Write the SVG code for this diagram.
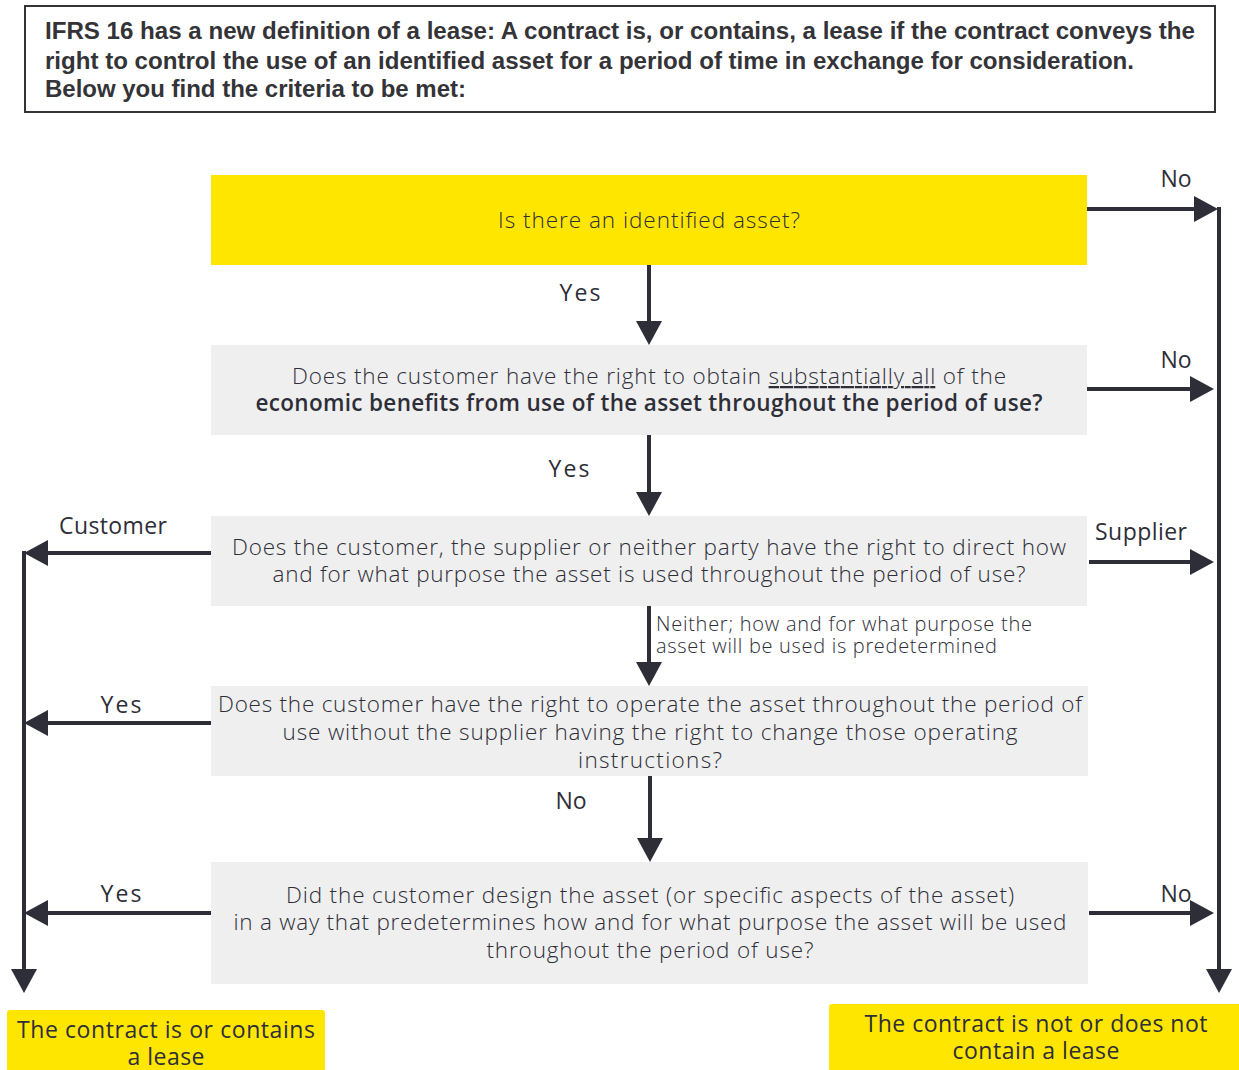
<svg xmlns="http://www.w3.org/2000/svg" width="1239" height="1070" viewBox="0 0 1239 1070">
<style>
.hdr{font-family:"Liberation Sans",Arial,sans-serif;font-weight:bold;font-size:23px;fill:#333338}
.q{font-family:"Open Sans","Noto Sans",sans-serif;font-weight:300;font-size:22.5px;fill:#2e2e38;text-anchor:middle}
.qb{font-weight:600}
.lbl{font-family:"Open Sans","Noto Sans",sans-serif;font-weight:500;font-size:23px;fill:#2e2e38;text-anchor:middle}
.note{font-family:"Open Sans","Noto Sans",sans-serif;font-weight:300;font-size:20px;fill:#2e2e38}
.res{font-family:"Open Sans","Noto Sans",sans-serif;font-weight:500;font-size:23px;fill:#2e2e38;text-anchor:middle}
.yel{fill:#FFE600}
.gry{fill:#EFEFEF}
.ar{stroke:#2e2e38;stroke-width:4;fill:none;marker-end:url(#ah)}
</style>
<defs>
<marker id="ah" viewBox="0 0 24 26" refX="14" refY="13" markerWidth="24" markerHeight="26" markerUnits="userSpaceOnUse" orient="auto">
<path d="M0,0 L24,13 L0,26 Z" fill="#2e2e38"/>
</marker>
</defs>
<rect width="1239" height="1070" fill="#ffffff"/>
<g id="header">
<rect x="25" y="6" width="1190" height="106" fill="#fff" stroke="#333338" stroke-width="2"/>
<text class="hdr" x="45" y="39" textLength="1150" lengthAdjust="spacingAndGlyphs">IFRS 16 has a new definition of a lease: A contract is, or contains, a lease if the contract conveys the</text>
<text class="hdr" x="45" y="69" textLength="1089" lengthAdjust="spacingAndGlyphs">right to control the use of an identified asset for a period of time in exchange for consideration.</text>
<text class="hdr" x="45" y="97" textLength="421" lengthAdjust="spacingAndGlyphs">Below you find the criteria to be met:</text>
</g>
<g id="q1">
<rect class="yel" x="211" y="175" width="876" height="90"/>
<text class="q" x="649" y="228" textLength="302">Is there an identified asset?</text>
</g>
<g id="q2">
<rect class="gry" x="211" y="345" width="876" height="90"/>
<text class="q" x="649" y="384" textLength="714">Does the customer have the right to obtain <tspan text-decoration="underline">substantially all</tspan> of the</text>
<text class="q qb" x="649" y="411" textLength="787">economic benefits from use of the asset throughout the period of use?</text>
</g>
<g id="q3">
<rect class="gry" x="211" y="516" width="876" height="90"/>
<text class="q" x="649" y="555" textLength="834">Does the customer, the supplier or neither party have the right to direct how</text>
<text class="q" x="649" y="582" textLength="753">and for what purpose the asset is used throughout the period of use?</text>
</g>
<g id="q4">
<rect class="gry" x="211" y="686" width="877" height="90"/>
<text class="q" x="650" y="712" textLength="864">Does the customer have the right to operate the asset throughout the period of</text>
<text class="q" x="650" y="740" textLength="735">use without the supplier having the right to change those operating</text>
<text class="q" x="650" y="768" textLength="144">instructions?</text>
</g>
<g id="q5">
<rect class="gry" x="211" y="862" width="877" height="122"/>
<text class="q" x="650" y="903" textLength="728">Did the customer design the asset (or specific aspects of the asset)</text>
<text class="q" x="650" y="930" textLength="833">in a way that predetermines how and for what purpose the asset will be used</text>
<text class="q" x="650" y="958" textLength="327">throughout the period of use?</text>
</g>
<g id="lease">
<rect class="yel" x="7" y="1010" width="318" height="70" rx="3"/>
<text class="res" x="166" y="1038" textLength="298">The contract is or contains</text>
<text class="res" x="166" y="1065" textLength="77">a lease</text>
</g>
<g id="nolease">
<rect class="yel" x="829" y="1004" width="420" height="76" rx="3"/>
<text class="res" x="1036" y="1032" textLength="343">The contract is not or does not</text>
<text class="res" x="1036" y="1059" textLength="167">contain a lease</text>
</g>
<g id="connectors">
<line class="ar" x1="649" y1="265" x2="649" y2="335"/>
<line class="ar" x1="649" y1="435" x2="649" y2="506"/>
<line class="ar" x1="649" y1="606" x2="649" y2="676"/>
<line class="ar" x1="650" y1="776" x2="650" y2="852"/>
<line class="ar" x1="1087" y1="209" x2="1208" y2="209"/>
<line class="ar" x1="1087" y1="389" x2="1204" y2="389"/>
<line class="ar" x1="1089" y1="562" x2="1204" y2="562"/>
<line class="ar" x1="1089" y1="913" x2="1204" y2="913"/>
<line class="ar" x1="1219" y1="207" x2="1219" y2="983"/>
<line class="ar" x1="211" y1="553" x2="34" y2="553"/>
<line class="ar" x1="211" y1="723" x2="34" y2="723"/>
<line class="ar" x1="211" y1="913" x2="34" y2="913"/>
<line class="ar" x1="24" y1="551" x2="24" y2="983"/>
<text class="lbl" x="580" y="301" textLength="41">Yes</text>
<text class="lbl" x="569" y="477" textLength="41">Yes</text>
<text class="lbl" x="571" y="809" textLength="31">No</text>
<text class="lbl" x="1176" y="187" textLength="31">No</text>
<text class="lbl" x="1176" y="368" textLength="31">No</text>
<text class="lbl" x="1141" y="540" textLength="92">Supplier</text>
<text class="lbl" x="1176" y="902" textLength="31">No</text>
<text class="lbl" x="113" y="534" textLength="108">Customer</text>
<text class="lbl" x="121" y="713" textLength="41">Yes</text>
<text class="lbl" x="121" y="902" textLength="41">Yes</text>
<text class="note" x="656" y="631" textLength="376">Neither; how and for what purpose the</text>
<text class="note" x="656" y="653" textLength="341">asset will be used is predetermined</text>
</g>
</svg>
